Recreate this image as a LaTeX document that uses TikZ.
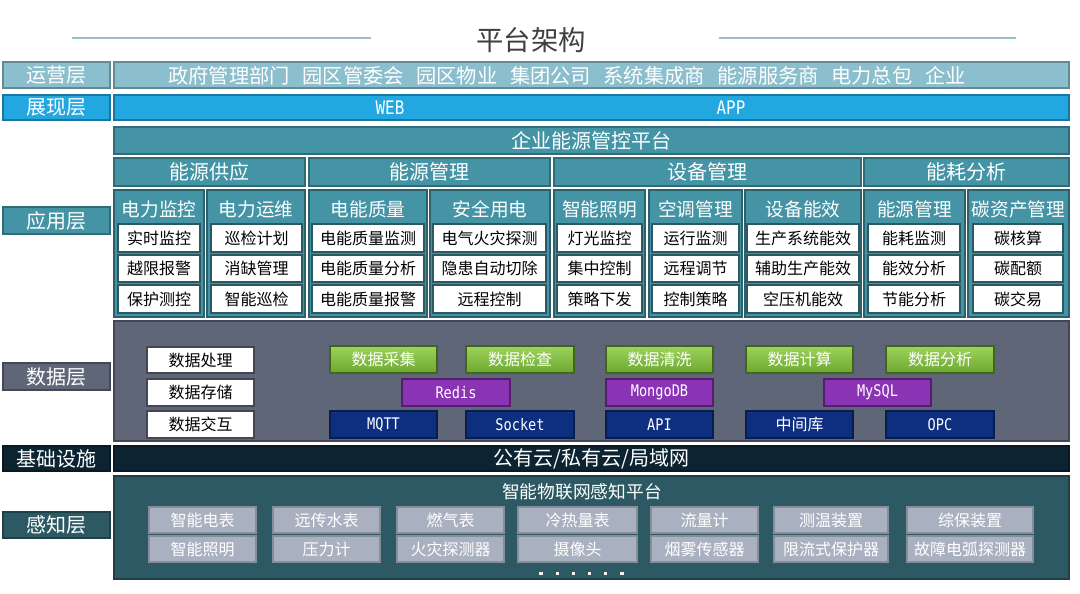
\documentclass[tikz,border=0pt]{standalone}
\usepackage{fontspec}
\setmainfont{Noto Sans CJK SC}
\newfontfamily\latinmono[FakeStretch=0.85]{DejaVu Sans Mono}
\definecolor{opsc}{HTML}{8BBFCD}
\definecolor{webc}{HTML}{22A7E0}
\definecolor{tealc}{HTML}{4494A5}
\definecolor{slatec}{HTML}{5E6677}
\definecolor{infrac}{HTML}{0C2331}
\definecolor{percc}{HTML}{2C5963}
\definecolor{grayb}{HTML}{A9B1C0}
\definecolor{greent}{HTML}{9DD35C}
\definecolor{greenb}{HTML}{6CA830}
\definecolor{purpc}{HTML}{8A33B5}
\definecolor{navyc}{HTML}{0E2E80}
\definecolor{linec}{HTML}{9ABFCB}
\definecolor{titlec}{HTML}{404040}
\newcommand\boxnode[7]{\node[#1,minimum width={(#5-#3)*0.75pt},minimum height={(#6-#4)*0.75pt}] (#2) at ({(#3+#5)/2},{(#4+#6)/2}) {#7};}
\tikzset{
  base/.style={inner sep=0pt, outer sep=0pt, line width=0.8pt, align=center},
  layer/.style={base, fill=#1, draw=#1!72!black, text=white, font=\fontsize{15}{15}\selectfont},
  sub/.style={base, fill=tealc, draw=tealc!65!black},
  subtitle/.style={base, text=white, font=\fontsize{14}{14}\selectfont},
  item/.style={base, fill=white, draw=tealc!60!black, text=black, font=\fontsize{12}{12}\selectfont},
  ditem/.style={base, fill=white, draw=slatec!70!black, text=black, font=\fontsize{12}{12}\selectfont},
  greenbox/.style={base, top color=greent, bottom color=greenb, draw=greenb!60!black, text=white, font=\fontsize{12}{12}\selectfont},
  purpbox/.style={base, fill=purpc, draw=purpc!60!black, text=white, font=\fontsize{12}{12}\latinmono},
  navybox/.style={base, fill=navyc, draw=navyc!60!black, text=white, font=\fontsize{12}{12}\latinmono},
  graybox/.style={base, fill=grayb, draw=grayb!80!black, text=white, font=\fontsize{12}{12}\selectfont},
  titleline/.style={draw=linec, line width=1pt},
}
\begin{document}
\begin{tikzpicture}[x=0.75pt,y=-0.75pt]
\useasboundingbox[fill=white] (0,0) rectangle (1080,593);
% title
\node[base, text=titlec, font=\fontsize{20.5}{20.5}\selectfont] (title) at (531,40) {平台架构};
\coordinate (tl1) at (72,38); \coordinate (tl2) at (371,38);
\coordinate (tr1) at (719,38); \coordinate (tr2) at (1016,38);
\draw[titleline] (tl1) -- (tl2);
\draw[titleline] (tr1) -- (tr2);
% layer labels
\boxnode{layer=opsc}{Lops}{3}{62}{110}{88}{运营层}
\boxnode{layer=webc}{Lweb}{3}{95}{110}{120}{展现层}
\boxnode{layer=tealc}{Lapp}{3}{207}{110}{234}{应用层}
\boxnode{layer=slatec}{Ldata}{3}{363}{110}{390}{数据层}
\boxnode{layer=infrac}{Linfra}{3}{446}{110}{471}{基础设施}
\boxnode{layer=percc}{Lperc}{3}{512}{110}{538}{感知层}
% operations bar
\boxnode{layer=opsc}{ops}{114}{62}{1069}{88}{}
\node[base, text=white, font=\fontsize{15.2}{15.2}\selectfont] (opstext) at (567,76) {政府管理部门\hspace{0.62em}园区管委会\hspace{0.62em}园区物业\hspace{0.62em}集团公司\hspace{0.62em}系统集成商\hspace{0.62em}能源服务商\hspace{0.62em}电力总包\hspace{0.62em}企业};
% presentation bar
\boxnode{layer=webc}{web}{114}{95}{1069}{120}{}
\node[base, text=white, font=\fontsize{14}{14}\latinmono] (webt) at (390,108) {WEB};
\node[base, text=white, font=\fontsize{14}{14}\latinmono] (appt) at (731,108) {APP};
% platform bar
\boxnode{layer=tealc}{plat}{114}{127}{1069}{154}{企业能源管控平台}
% categories
\boxnode{layer=tealc}{cat1}{114}{158}{305}{186}{能源供应}
\boxnode{layer=tealc}{cat2}{309}{158}{550}{186}{能源管理}
\boxnode{layer=tealc}{cat3}{554}{158}{861}{186}{设备管理}
\boxnode{layer=tealc}{cat4}{864}{158}{1069}{186}{能耗分析}
% subgroups
\foreach \n/\xa/\xb/\ia/\ib/\t/\p/\q/\r in {
  s1/114/204/118/200/电力监控/实时监控/越限报警/保护测控,
  s2/207/305/211/302/电力运维/巡检计划/消缺管理/智能巡检,
  s3/309/427/312/424/电能质量/电能质量监测/电能质量分析/电能质量报警,
  s4/430/550/433/546/安全用电/电气火灾探测/隐患自动切除/远程控制,
  s5/554/645/557/642/智能照明/灯光监控/集中控制/策略下发,
  s6/649/742/652/739/空调管理/运行监测/远程调节/控制策略,
  s7/745/861/747/859/设备能效/生产系统能效/辅助生产能效/空压机能效,
  s8/864/965/868/960/能源管理/能耗监测/能效分析/节能分析,
  s9/968/1069/973/1063/碳资产管理/碳核算/碳配额/碳交易}{
  \boxnode{sub}{\n}{\xa}{190}{\xb}{317}{}
  \node[subtitle] (\n-t) at ({(\xa+\xb)/2},209) {\t};
  \boxnode{item}{\n-a}{\ia}{224}{\ib}{252}{\p}
  \boxnode{item}{\n-b}{\ia}{255}{\ib}{282}{\q}
  \boxnode{item}{\n-c}{\ia}{285}{\ib}{313}{\r}
}
% data layer
\boxnode{base, fill=slatec, draw=slatec!70!black}{data}{114}{321}{1069}{441}{}
\boxnode{ditem}{dproc}{147}{347}{254}{373}{数据处理}
\boxnode{ditem}{dstor}{147}{379}{254}{406}{数据存储}
\boxnode{ditem}{dint}{147}{411}{254}{438}{数据交互}
\boxnode{greenbox}{g1}{330}{346}{437}{373}{数据采集}
\boxnode{greenbox}{g2}{466}{346}{574}{373}{数据检查}
\boxnode{greenbox}{g3}{606}{346}{713}{373}{数据清洗}
\boxnode{greenbox}{g4}{746}{346}{853}{373}{数据计算}
\boxnode{greenbox}{g5}{886}{346}{994}{373}{数据分析}
\boxnode{purpbox}{p1}{402}{379}{510}{406}{Redis}
\boxnode{purpbox}{p2}{606}{379}{713}{406}{MongoDB}
\boxnode{purpbox}{p3}{824}{379}{931}{406}{MySQL}
\boxnode{navybox}{n1}{330}{411}{437}{438}{MQTT}
\boxnode{navybox}{n2}{466}{411}{574}{438}{Socket}
\boxnode{navybox}{n3}{606}{411}{713}{438}{API}
\boxnode{navybox, font=\fontsize{12}{12}\selectfont}{n4}{746}{411}{853}{438}{中间库}
\boxnode{navybox}{n5}{886}{411}{994}{438}{OPC}
% infrastructure
\boxnode{layer=infrac}{infra}{114}{446}{1069}{471}{公有云/私有云/局域网}
% perception
\boxnode{base, fill=percc, draw=percc!70!black}{perc}{114}{476}{1069}{579}{}
\node[base, text=white, font=\fontsize{13.3}{13.3}\selectfont] (perct) at (582,492) {智能物联网感知平台};
\foreach \n/\xa/\xb/\p/\q in {
  k1/149/256/智能电表/智能照明,
  k2/273/380/远传水表/压力计,
  k3/397/504/燃气表/火灾探测器,
  k4/518/637/冷热量表/摄像头,
  k5/651/758/流量计/烟雾传感器,
  k6/774/888/测温装置/限流式保护器,
  k7/907/1033/综保装置/故障电弧探测器}{
  \boxnode{graybox}{\n-a}{\xa}{507}{\xb}{533}{\p}
  \boxnode{graybox}{\n-b}{\xa}{536}{\xb}{562}{\q}
}
\foreach \i in {0,...,5}{
  \fill[white!85!grayb] ({541+16.2*\i-1.6},571.5) rectangle ++(3.2,3.2);
}
\end{tikzpicture}
\end{document}
